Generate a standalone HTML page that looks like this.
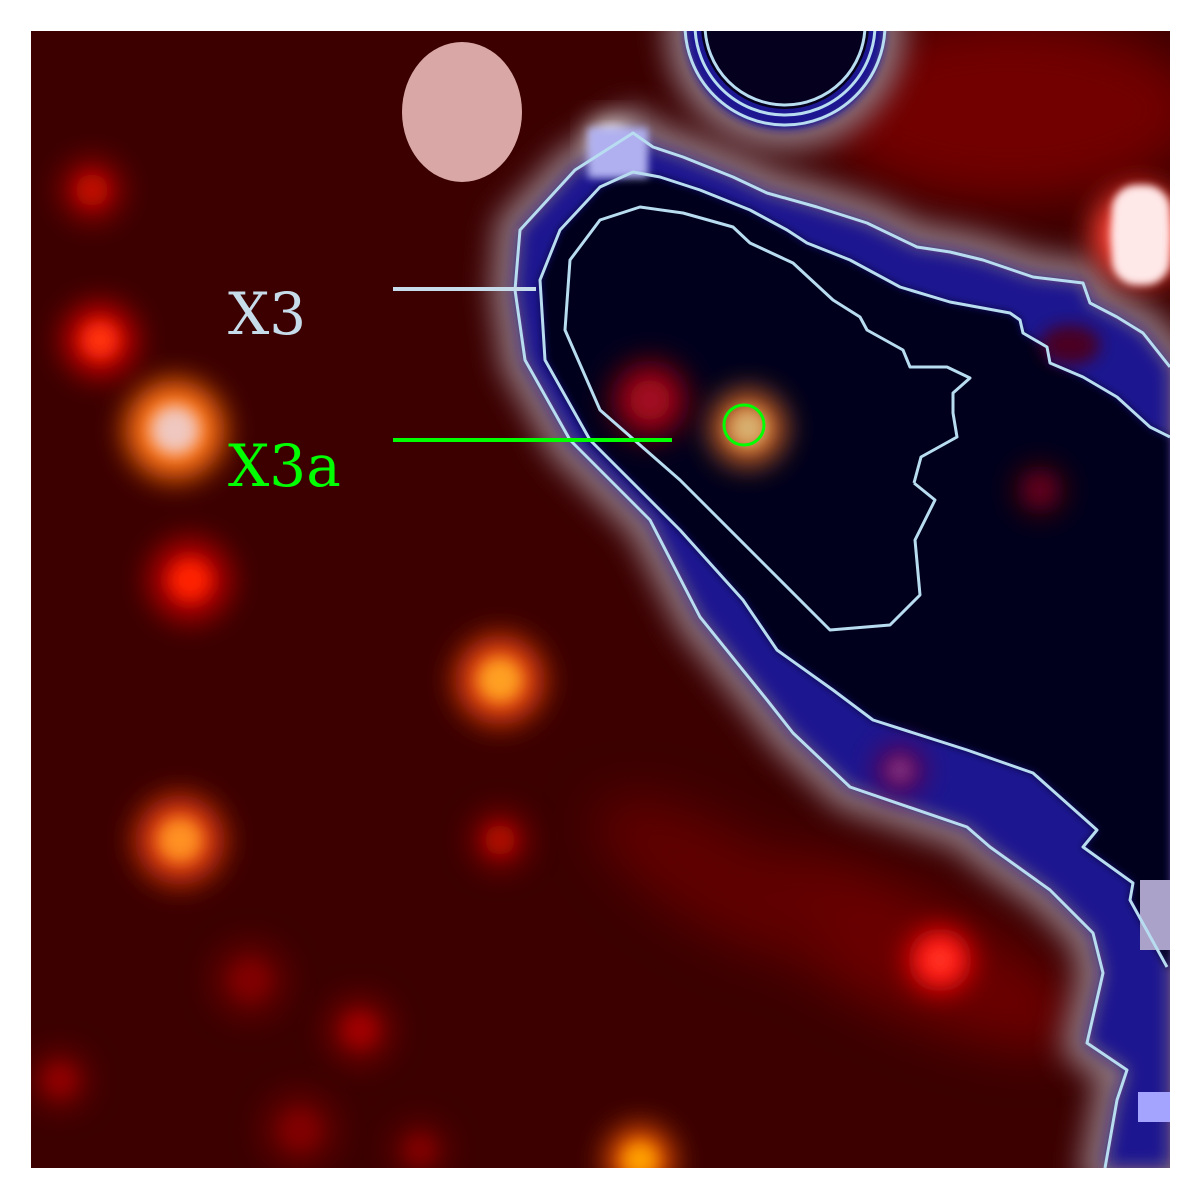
<!DOCTYPE html>
<html><head><meta charset="utf-8"><style>
html,body{margin:0;padding:0;background:#fff;width:1200px;height:1200px;overflow:hidden}
svg{display:block}
</style></head><body>
<svg id="chart" width="1200" height="1200" viewBox="0 0 1200 1200" xmlns="http://www.w3.org/2000/svg">
<defs>
<clipPath id="frame"><rect x="31" y="31" width="1139" height="1137"/></clipPath>
<filter id="b8" x="-50%" y="-50%" width="200%" height="200%"><feGaussianBlur stdDeviation="8"/></filter>
<filter id="b14" x="-50%" y="-50%" width="200%" height="200%"><feGaussianBlur stdDeviation="14"/></filter>
<filter id="b25" x="-50%" y="-50%" width="200%" height="200%"><feGaussianBlur stdDeviation="25"/></filter>
<filter id="b4" x="-50%" y="-50%" width="200%" height="200%"><feGaussianBlur stdDeviation="4"/></filter>
</defs>
<g clip-path="url(#frame)">
<rect x="31" y="31" width="1139" height="1137" fill="#3c0000"/>
<g filter="url(#b25)">
<ellipse cx="1010" cy="110" rx="190" ry="90" fill="#720000"/>
<ellipse cx="900" cy="950" rx="200" ry="60" fill="#6a0000" transform="rotate(25 900 950)"/>
<ellipse cx="720" cy="880" rx="140" ry="50" fill="#600000" transform="rotate(30 720 880)"/>
</g>
<g>
<path filter="url(#b14)" fill="#8a7078" stroke="#8a7078" stroke-width="50" stroke-linejoin="round" d="M633,133 L575,170 L520,230 L515,290 L525,360 L570,440 L650,520 L700,617 L767,700 L793,733 L850,787 L967,827 L990,847 L1050,890 L1093,933 L1103,973 L1087,1043 L1127,1070 L1117,1100 L1105,1168 L1170,1168 L1170,367 L1143,333 L1117,317 L1090,303 L1083,283 L1033,277 L983,260 L950,252 L917,247 L867,223 L817,207 L767,193 L733,177 L683,157 L653,147 Z"/>
<path filter="url(#b8)" fill="#1c1890" d="M633,133 L575,170 L520,230 L515,290 L525,360 L570,440 L650,520 L700,617 L767,700 L793,733 L850,787 L967,827 L990,847 L1050,890 L1093,933 L1103,973 L1087,1043 L1127,1070 L1117,1100 L1105,1168 L1170,1168 L1170,367 L1143,333 L1117,317 L1090,303 L1083,283 L1033,277 L983,260 L950,252 L917,247 L867,223 L817,207 L767,193 L733,177 L683,157 L653,147 Z"/>
<path filter="url(#b4)" fill="#05001e" d="M633,172 L600,187 L560,230 L540,280 L545,360 L590,440 L680,530 L743,600 L777,650 L833,690 L873,720 L967,750 L1033,773 L1097,830 L1083,847 L1133,883 L1130,900 L1167,967 L1170,967 L1170,437 L1150,427 L1117,397 L1083,377 L1050,363 L1047,347 L1023,333 L1020,320 L1010,313 L950,302 L900,287 L850,260 L807,243 L787,230 L750,210 L700,190 L660,177 Z"/>
<ellipse cx="1070" cy="345" rx="30" ry="20" fill="#4a0020" filter="url(#b8)"/>
<circle cx="785" cy="30" r="120" fill="#8a7078" filter="url(#b14)"/>
<circle cx="785" cy="30" r="100" fill="#1c1890" filter="url(#b4)"/>
<circle cx="785" cy="25" r="84" fill="#05001e"/>
</g>
<g id="blobs"></g>
<ellipse cx="462" cy="112" rx="60" ry="70" fill="#d9a8a6"/>
<rect x="1112" y="185" width="58" height="100" rx="25" fill="#ffe8e8" filter="url(#b4)"/>
<rect x="1140" y="880" width="30" height="70" fill="#aaa2c8"/>
<rect x="1138" y="1092" width="32" height="30" fill="#a4a4ff"/>
<rect x="588" y="128" width="60" height="50" fill="#b0b0f0" filter="url(#b4)"/>
<g fill="none" stroke="#b8dcf0" stroke-width="3" stroke-linejoin="round">
<polyline points="1170,367 1143,333 1117,317 1090,303 1083,283 1033,277 983,260 950,252 917,247 867,223 817,207 767,193 733,177 683,157 653,147 633,133 575,170 520,230 515,290 525,360 570,440 650,520 700,617 767,700 793,733 850,787 967,827 990,847 1050,890 1093,933 1103,973 1087,1043 1127,1070 1117,1100 1105,1168"/>
<polyline points="1170,437 1150,427 1117,397 1083,377 1050,363 1047,347 1023,333 1020,320 1010,313 950,302 900,287 850,260 807,243 787,230 750,210 700,190 660,177 633,172 600,187 560,230 540,280 545,360 590,440 680,530 743,600 777,650 833,690 873,720 967,750 1033,773 1097,830 1083,847 1133,883 1130,900 1167,967"/>
<polyline points="914,483 921,457 957,437 953,413 953,393 970,378 947,367 910,367 903,350 867,330 860,317 833,300 793,263 750,243 733,227 683,213 640,207 600,220 570,260 565,330 600,410 680,480 760,560 830,630 890,625 920,595 915,540 935,500 914,483"/>
<circle cx="785" cy="25" r="100"/><circle cx="785" cy="25" r="90"/><circle cx="785" cy="25" r="80"/>
</g>
</g>
<text x="228" y="334" font-family="'DejaVu Serif','Liberation Serif',serif" font-size="58" fill="#c6dcea">X3</text>
<line x1="393" y1="289" x2="536" y2="289" stroke="#c6dcea" stroke-width="4"/>
<text x="228" y="486" font-family="'DejaVu Serif','Liberation Serif',serif" font-size="58" fill="#00ff00">X3a</text>
<line x1="393" y1="440" x2="672" y2="440" stroke="#00ff00" stroke-width="4"/>
<circle cx="744" cy="425" r="20" fill="none" stroke="#00ff00" stroke-width="3"/>
</svg>
<script>
const blobX=[175,500,180,100,190,92,940,500,748,650,360,640,1140,610,1040,300,60,250,420,900];
const blobY=[430,680,840,340,580,190,960,840,428,400,1030,1160,235,140,490,1130,1080,980,1150,770];
const blobR=[50,45,45,38,42,32,32,30,38,40,35,35,48,20,25,40,30,40,30,25];
const blobColor=["#ff7010","#e04010","#d83810","#c00000","#b00000","#900000","#ff1010","#800000","#c86020","#800010","#700000","#e05000","#ff4030","#ffffff","#500010","#600000","#700000","#600000","#600000","#600050"];
const blobCore=["#f0c8c0","#ffa020","#ff9020","#ff3010","#ff2000","#c01000","#ff3020","#b01000","#d8b070","#a01020","#a00000","#ffa000","#ffffff","#f0f0ff","#600020","#800000","#900000","#800000","#800000","#803080"];
const NS="http://www.w3.org/2000/svg";
const g=document.getElementById('blobs');
for(let i=0;i<blobX.length;i++){
  const c=document.createElementNS(NS,'circle');
  c.setAttribute('cx',blobX[i]);c.setAttribute('cy',blobY[i]);c.setAttribute('r',blobR[i]);
  c.setAttribute('fill',blobColor[i]);c.setAttribute('filter','url(#b14)');
  
  
  g.appendChild(c);
  const k=document.createElementNS(NS,'circle');
  k.setAttribute('cx',blobX[i]);k.setAttribute('cy',blobY[i]);k.setAttribute('r',blobR[i]*0.5);
  k.setAttribute('fill',blobCore[i]);k.setAttribute('filter','url(#b8)');
  
  
  g.appendChild(k);
}
</script>
</body></html>
